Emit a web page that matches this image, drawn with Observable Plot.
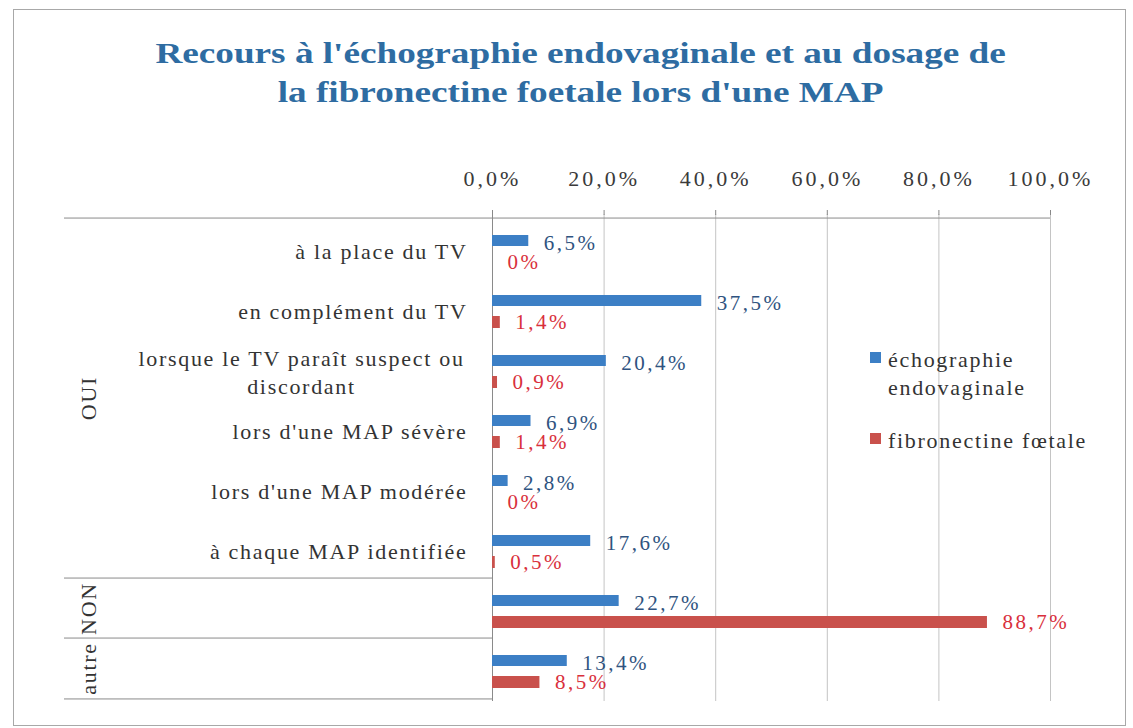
<!DOCTYPE html>
<html><head><meta charset="utf-8">
<script src="https://cdn.jsdelivr.net/npm/d3@7"></script>
<script src="https://cdn.jsdelivr.net/npm/@observablehq/plot@0.6"></script>
<style>
body{margin:0;background:#fff;overflow:hidden}
#wrap{position:relative;width:1133px;height:728px;font-family:"Liberation Serif","Times New Roman",serif;overflow:hidden}
#frame{position:absolute;left:13px;top:9px;width:1111px;height:715px;border:1px solid #a8a8a8;pointer-events:none}
#title{position:absolute;left:0;top:33px;width:1161px;text-align:center;font-family:"Liberation Serif",serif;font-weight:bold;font-size:30px;line-height:39px;color:#2e6ca2;transform:scaleX(1.24);transform-origin:580px 0}
#chart{position:absolute;left:0;top:140px}
.leg{position:absolute;left:870px;font-family:"Liberation Serif",serif;font-size:22px;line-height:28px;letter-spacing:1.7px;color:#333}
.leg span.sw{position:absolute;left:0;width:11px;height:11px}
.leg span.tx{position:absolute;left:18px;white-space:nowrap}
svg text{font-family:"Liberation Serif",serif}
g[aria-label="x-axis tick label"] text{letter-spacing:3px}
g[aria-label="text"][font-size="22"] text{letter-spacing:1.7px}
g[aria-label="text"][font-size="21"] text{letter-spacing:2.5px}
</style></head>
<body>
<div id="wrap">
  <div id="title">Recours à l'échographie endovaginale et au dosage de<br>la fibronectine foetale lors d'une MAP</div>
  <div id="chart"></div>
  <div id="legend"></div>
  <div id="frame"></div>
</div>
<script>
const groups = ["OUI","OUI","OUI","OUI","OUI","OUI","NON","autre"];
const categories = [
  "à la place du TV",
  "en complément du TV",
  "lorsque le TV paraît suspect ou\ndiscordant",
  "lors d'une MAP sévère",
  "lors d'une MAP modérée",
  "à chaque MAP identifiée",
  "",
  ""
];
const echo  = [6.5, 37.5, 20.4, 6.9, 2.8, 17.6, 22.7, 13.4];
const fibro = [0, 1.4, 0.9, 1.4, 0, 0.5, 88.7, 8.5];
const seriesNames = ["échographie\nendovaginale", "fibronectine fœtale"];
const seriesColors = ["#3c7fc5", "#c9514c"];
const labelColors = ["#2f5380", "#d9303c"];
const xTicks = [0, 20, 40, 60, 80, 100];

const rows = d3.range(categories.length);
const data = rows.map(i => ({i, group: groups[i], cat: categories[i], echo: echo[i], fibro: fibro[i]}));
const fmt = v => v === 0 ? "0%" : v.toFixed(1).replace(".", ",") + "%";
const fmtTick = v => v.toFixed(1).replace(".", ",") + "%";
const half = 30.45;
const leftX = -76.7;

// group spans
const groupNames = Array.from(new Set(groups));
const groupData = groupNames.map(g => {
  const idx = rows.filter(i => groups[i] === g);
  return {g, first: idx[0], last: idx[idx.length - 1], n: idx.length};
});
const multiGroups = groupData.filter(d => d.n > 1).map(d => ({g: d.g, i: d.first + d.n / 2}));
const singleGroups = groupData.filter(d => d.n === 1).map(d => ({g: d.g, i: d.first}));

const chart = Plot.plot({
  width: 1133, height: 588,
  marginLeft: 492, marginRight: 83, marginTop: 74, marginBottom: 27,
  style: {fontFamily: "Liberation Serif, serif", background: "transparent", overflow: "visible"},
  x: {domain: [0, 100], axis: null},
  y: {domain: rows, axis: null, padding: 0},
  marks: [
    Plot.gridX(xTicks.slice(1), {stroke: "#c4c4c4", strokeOpacity: 1}),
    Plot.axisX(xTicks, {anchor: "top", tickSize: 5, tickPadding: 24, tickFormat: fmtTick, fontSize: 22, fill: "#3a3a3a", stroke: "#888"}),
    Plot.ruleY([rows[0]], {x1: leftX, x2: 100, dy: -half, stroke: "#8a8a8a"}),
    Plot.ruleY(groupData.slice(1).map(d => d.first), {x1: leftX, x2: 0, dy: -half, stroke: "#8a8a8a"}),
    Plot.ruleY([rows[rows.length - 1]], {x1: leftX, x2: 0, dy: half, stroke: "#8a8a8a"}),
    Plot.ruleX([0], {stroke: "#8a8a8a"}),
    Plot.barX(data, {x: "echo", y: "i", fill: seriesColors[0], insetTop: 17, insetBottom: 32}),
    Plot.barX(data, {x: "fibro", y: "i", fill: seriesColors[1], insetTop: 38, insetBottom: 10}),
    Plot.text(data, {x: "echo", y: "i", text: d => fmt(d.echo), dx: 15, dy: -5.5, textAnchor: "start", fill: labelColors[0], fontSize: 21}),
    Plot.text(data, {x: "fibro", y: "i", text: d => fmt(d.fibro), dx: 15, dy: 14, textAnchor: "start", fill: labelColors[1], fontSize: 21}),
    Plot.text(data.filter(d => !d.cat.includes("\n")), {y: "i", text: "cat", frameAnchor: "left", dx: -25, dy: 3, textAnchor: "end", fontSize: 22, fill: "#333"}),
    Plot.text(data.filter(d => d.cat.includes("\n")), {y: "i", text: "cat", frameAnchor: "left", dx: -191, dy: 3, textAnchor: "middle", lineHeight: 1.27, fontSize: 22, fill: "#333"}),
    Plot.text(multiGroups, {y: d => Math.floor(d.i), text: "g", frameAnchor: "left", dx: -404, dy: -half, rotate: -90, textAnchor: "middle", fontSize: 22, fill: "#333"}),
    Plot.text(singleGroups, {y: "i", text: "g", frameAnchor: "left", dx: -404, rotate: -90, textAnchor: "middle", fontSize: 22, fill: "#333"})
  ]
});
document.getElementById("chart").appendChild(chart);

const legend = document.getElementById("legend");
const legTops = [345.6, 426.6];
seriesNames.forEach((name, k) => {
  const item = document.createElement("div");
  item.className = "leg";
  item.style.top = legTops[k] + "px";
  const sw = document.createElement("span");
  sw.className = "sw";
  sw.style.background = seriesColors[k];
  sw.style.top = "6px";
  const tx = document.createElement("span");
  tx.className = "tx";
  tx.innerHTML = name.replace("\n", "<br>");
  item.appendChild(sw);
  item.appendChild(tx);
  legend.appendChild(item);
});
</script>
</body></html>
